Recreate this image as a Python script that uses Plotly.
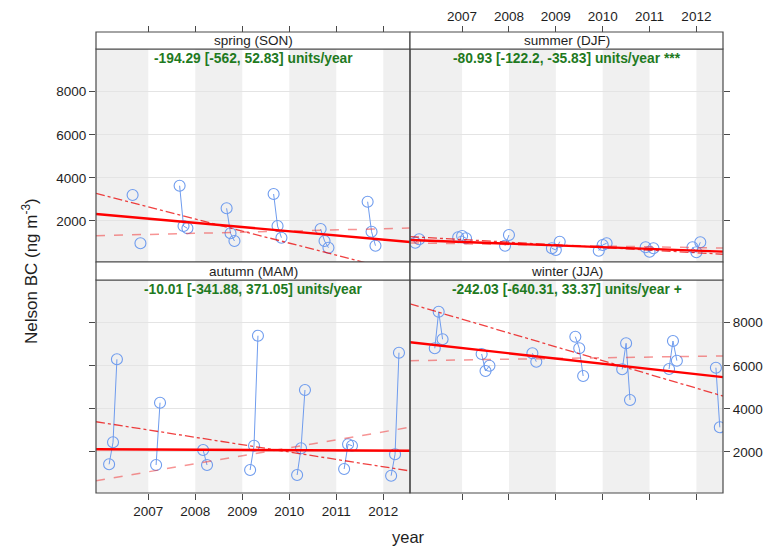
import plotly.graph_objects as go

# Monthly mean Nelson BC (ng m^-3), grouped by season and season-year.
# Each row is one season-year; columns are the three months of the season.
seasons = ["spring (SON)", "summer (DJF)", "autumn (MAM)", "winter (JJA)"]

# spring: Sep, Oct, Nov
spring_years = [2006, 2007, 2008, 2009, 2010, 2011]
spring_values = [
    [3206, None, 965],
    [3637, 1767, 1661],
    [2589, 1429, 1071],
    [3252, 1767, 1225],
    [1628, 1071, 760],
    [2895, 1503, 853],
]

# summer: Dec (previous year), Jan, Feb
summer_years = [2006, 2007, 2008, 2009, 2010, 2011, 2012]
summer_values = [
    [None, 993, 1150],
    [1243, 1303, 1197],
    [853, 1350, None],
    [733, 654, 1039],
    [621, 886, 965],
    [779, 575, 733],
    [779, 547, 1011],
]

# autumn: Mar, Apr, May
autumn_years = [2006, 2007, 2008, 2009, 2010, 2011, 2012]
autumn_values = [
    [1429, 2449, 6301],
    [1396, 4287, None],
    [2092, 1396, None],
    [1164, 2292, 7396],
    [932, 2171, 4876],
    [1211, 2357, 2292],
    [900, 1893, 6607],
]

# winter: Jun, Jul, Aug
winter_years = [2006, 2007, 2008, 2009, 2010, 2011, 2012]
winter_values = [
    [6811, 8509, 7229],
    [6547, 5758, 6004],
    [None, 6579, 6190],
    [7349, 6811, 5526],
    [5837, 7043, 4412],
    [5851, 7150, 6236],
    [5911, 3145, None],
]

# calendar months of each season; December belongs to the previous calendar year
season_months = {
    "spring (SON)": [9, 10, 11],
    "summer (DJF)": [12, 1, 2],
    "autumn (MAM)": [3, 4, 5],
    "winter (JJA)": [6, 7, 8],
}

# Theil-Sen trend: slope with 95% interval, and level of each line at the start of 2006
slope = [-194.29, -80.93, -10.01, -242.03]
slope_lower = [-562, -122.2, -341.88, -640.31]
slope_upper = [52.83, -35.83, 371.05, 33.37]
level_2006 = [2302, 1110, 2126, 7065]
level_2006_lower = [3220, 1260, 3366, 8803]
level_2006_upper = [1323, 980, 710, 6239]
signif = ["", " ***", "", " +"]

year_ticks = [2007, 2008, 2009, 2010, 2011, 2012]
conc_ticks = [2000, 4000, 6000, 8000]
shade_years = [2006, 2008, 2010, 2012]

x_range = [2005.888, 2012.568]
y_range = [97, 9981]

W, H = 769, 547
px = lambda v: v / W
py = lambda v: (H - v) / H

x_left = [px(96), px(410)]
x_right = [px(410), px(723)]
y_top = [py(262), py(49)]
y_bottom = [py(493), py(280)]
strip_top = [py(49), py(32)]
strip_bottom = [py(280), py(262)]

panels = [
    # (season, years, values, x-domain, y-domain, strip span, axis suffix)
    ("spring (SON)", spring_years, spring_values, x_left, y_top, strip_top, ""),
    ("summer (DJF)", summer_years, summer_values, x_right, y_top, strip_top, "2"),
    ("autumn (MAM)", autumn_years, autumn_values, x_left, y_bottom, strip_bottom, "3"),
    ("winter (JJA)", winter_years, winter_values, x_right, y_bottom, strip_bottom, "4"),
]

point_color = "#6f9cee"
font_family = "Liberation Sans, Arial, sans-serif"
text_color = "#1e1e1e"
frame_color = "#4a4a4a"

fig = go.Figure()
shapes = []
annotations = []


def trend(level, b):
    return [level + b * (x - 2006) for x in x_range]


for i, (name, years, values, xd, yd, sd, sfx) in enumerate(panels):
    xa = "x" + sfx
    ya = "y" + sfx
    months = season_months[name]

    # monthly points, with gaps between season-years
    xs, ys = [], []
    for yr, row in zip(years, values):
        for m, v in zip(months, row):
            cal_year = yr - 1 if m == 12 else yr
            xs.append(cal_year + (m - 1) / 12)
            ys.append(v)
        xs.append(None)
        ys.append(None)
    fig.add_trace(go.Scatter(
        x=xs, y=ys, mode="lines+markers", xaxis=xa, yaxis=ya,
        line=dict(color=point_color, width=1),
        marker=dict(symbol="circle-open", size=11, color=point_color,
                    line=dict(width=1.1)),
        showlegend=False, hoverinfo="skip", connectgaps=False,
    ))

    # trend line and its confidence bounds
    fig.add_trace(go.Scatter(
        x=x_range, y=trend(level_2006_lower[i], slope_lower[i]),
        mode="lines", xaxis=xa, yaxis=ya,
        line=dict(color="rgba(235,0,0,0.75)", width=1.3, dash="dashdot"),
        showlegend=False, hoverinfo="skip"))
    fig.add_trace(go.Scatter(
        x=x_range, y=trend(level_2006_upper[i], slope_upper[i]),
        mode="lines", xaxis=xa, yaxis=ya,
        line=dict(color="rgba(240,60,60,0.55)", width=1.5, dash="dash"),
        showlegend=False, hoverinfo="skip"))
    fig.add_trace(go.Scatter(
        x=x_range, y=trend(level_2006[i], slope[i]),
        mode="lines", xaxis=xa, yaxis=ya,
        line=dict(color="#ff0000", width=2.4),
        showlegend=False, hoverinfo="skip"))

    # alternating year shading
    for k, yr in enumerate(shade_years):
        x0 = x_range[0] if k == 0 else yr
        x1 = min(yr + 1, x_range[1])
        shapes.append(dict(type="rect", xref=xa, yref=ya + " domain",
                           x0=x0, x1=x1, y0=0, y1=1,
                           fillcolor="#f0f0f0", line=dict(width=0),
                           layer="below"))

    # panel frame
    shapes.append(dict(type="rect", xref="paper", yref="paper",
                       x0=xd[0], x1=xd[1], y0=yd[0], y1=yd[1],
                       line=dict(color=frame_color, width=1.2),
                       fillcolor="rgba(0,0,0,0)", layer="above"))

    # strip with season name
    shapes.append(dict(type="rect", xref="paper", yref="paper",
                       x0=xd[0], x1=xd[1], y0=sd[0], y1=sd[1],
                       line=dict(color=frame_color, width=1.2),
                       fillcolor="white", layer="above"))
    annotations.append(dict(
        x=(xd[0] + xd[1]) / 2, y=(sd[0] + sd[1]) / 2,
        xref="paper", yref="paper",
        text=name, showarrow=False, xanchor="center", yanchor="middle",
        font=dict(family=font_family, size=13.5, color=text_color)))

    # trend statistic
    stat = f"{slope[i]:g} [{slope_lower[i]:g}, {slope_upper[i]:g}] units/year{signif[i]}"
    annotations.append(dict(
        x=(xd[0] + xd[1]) / 2, y=yd[1] - 9.3 / H, xref="paper", yref="paper",
        text=f"<b>{stat}</b>", showarrow=False, xanchor="center",
        yanchor="middle",
        font=dict(family=font_family, size=13.8, color="#1f7a1f")))

tick_font = dict(family=font_family, size=13.5, color=text_color)

common_x = dict(range=x_range, tickvals=year_ticks, ticks="outside",
                ticklen=6, tickcolor=frame_color, showgrid=False,
                zeroline=False, showline=False, tickfont=tick_font)
common_y = dict(range=y_range, tickvals=conc_ticks, ticks="outside",
                ticklen=6, tickcolor=frame_color, showgrid=True,
                gridcolor="#e4e4e4", gridwidth=1, zeroline=False,
                showline=False, tickfont=tick_font)

fig.update_layout(
    width=W, height=H, autosize=False,
    margin=dict(l=0, r=0, t=0, b=0),
    paper_bgcolor="white", plot_bgcolor="white",
    font=dict(family=font_family, color=text_color),
    xaxis=dict(common_x, domain=x_left, anchor="free", position=strip_top[1],
               side="top", showticklabels=False),
    xaxis2=dict(common_x, domain=x_right, anchor="free", position=strip_top[1],
                side="top", showticklabels=True),
    xaxis3=dict(common_x, domain=x_left, anchor="y3", side="bottom",
                showticklabels=True),
    xaxis4=dict(common_x, domain=x_right, anchor="y4", side="bottom",
                showticklabels=False),
    yaxis=dict(common_y, domain=y_top, anchor="x", side="left",
               showticklabels=True),
    yaxis2=dict(common_y, domain=y_top, anchor="x2", side="right",
                showticklabels=False),
    yaxis3=dict(common_y, domain=y_bottom, anchor="x3", side="left",
                showticklabels=False),
    yaxis4=dict(common_y, domain=y_bottom, anchor="x4", side="right",
                showticklabels=True),
    shapes=shapes,
)

annotations.append(dict(
    x=px(409), y=py(537), xref="paper", yref="paper", text="year",
    showarrow=False, xanchor="center", yanchor="middle",
    font=dict(family=font_family, size=16.5, color=text_color)))
annotations.append(dict(
    x=px(30), y=py(271), xref="paper", yref="paper",
    text="Nelson BC (ng m<sup>-3</sup>)", textangle=-90,
    showarrow=False, xanchor="center", yanchor="middle",
    font=dict(family=font_family, size=17, color=text_color)))
fig.update_layout(annotations=annotations)

fig.write_html("out.html")
